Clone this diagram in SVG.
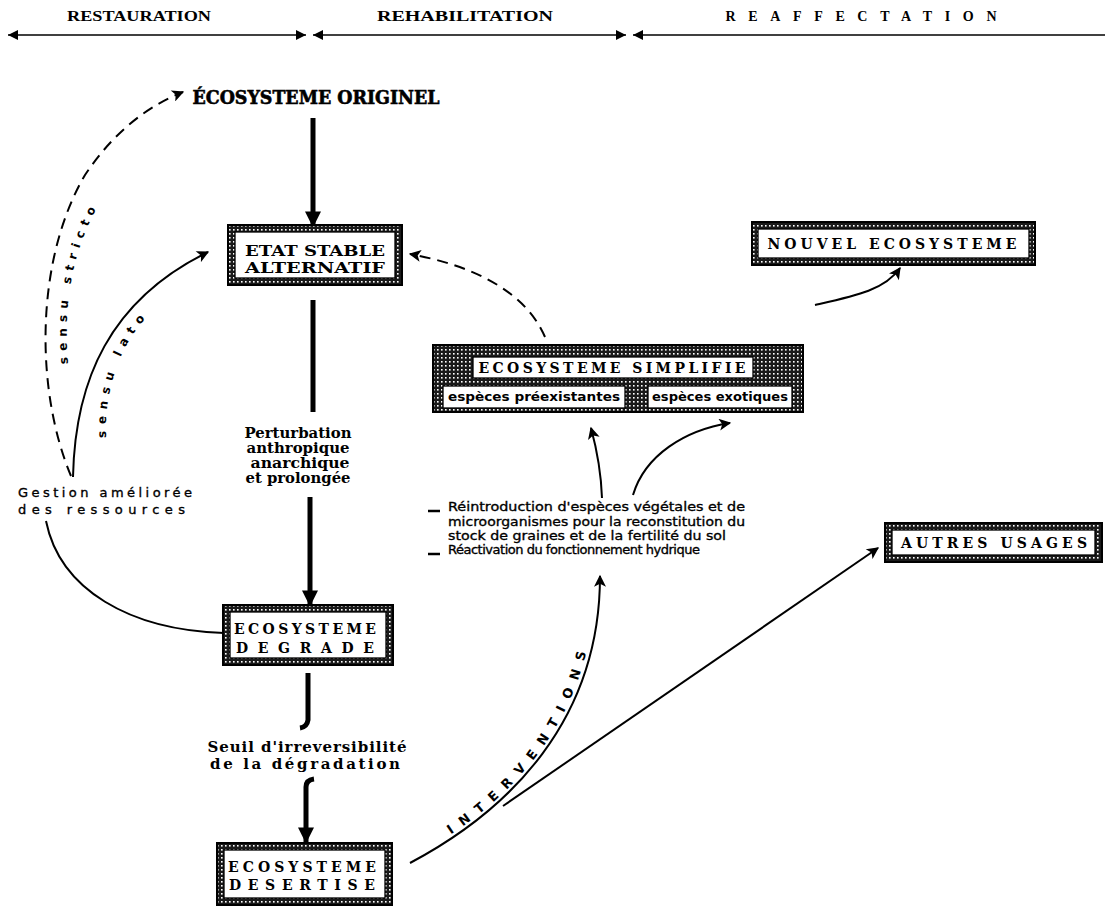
<svg xmlns="http://www.w3.org/2000/svg" width="1105" height="908" viewBox="0 0 1105 908">
<defs>
<style>
.hdr{font-family:"Liberation Serif",serif;font-weight:bold;font-size:14px;fill:#000}
.bt{font-family:"DejaVu Sans",sans-serif;font-weight:bold;fill:#000}
.bs{font-family:"DejaVu Serif",serif;font-weight:bold;fill:#000}
.lt{font-family:"DejaVu Sans",sans-serif;fill:#000;stroke:#000;stroke-width:0.35}
.ln{stroke:#000;fill:none;stroke-width:2}
.thin{stroke:#000;fill:none;stroke-width:1.6}
.thick{stroke:#000;fill:none;stroke-width:5}
.dash{stroke-dasharray:11 7}
.bo{fill:url(#hatch);stroke:#000;stroke-width:2}
.bi{fill:#fff;stroke:#000;stroke-width:1.3}
</style>
<pattern id="hatch" width="4" height="4" patternUnits="userSpaceOnUse">
<rect width="4" height="4" fill="#1a1a1a"/>
<rect x="1" y="1" width="1.6" height="1.6" fill="#fff"/>
</pattern>
<marker id="ah" viewBox="0 0 10 10" refX="9" refY="5" markerUnits="userSpaceOnUse" markerWidth="14" markerHeight="12" orient="auto">
<path d="M0,0 L10,5 L0,10 L2.5,5 z" fill="#000"/>
</marker>
<marker id="ahT" viewBox="0 0 10 10" refX="9" refY="5" markerUnits="userSpaceOnUse" markerWidth="20" markerHeight="16" orient="auto">
<path d="M0,0 L10,5 L0,10 z" fill="#000"/>
</marker>
<marker id="hh" viewBox="0 0 10 10" refX="10" refY="5" markerUnits="userSpaceOnUse" markerWidth="11" markerHeight="10" orient="auto-start-reverse">
<path d="M0,0 L10,5 L0,10 z" fill="#000"/>
</marker>
<path id="p-stricto" d="M68,364 C63,300 72,240 114,180"/>
<path id="p-lato" d="M106,438 C104,380 126,322 180,290"/>
<path id="p-interv" d="M432,846 C512,800 592,716 594,590"/>
</defs>

<g id="header">
<text class="hdr" x="139" y="21" text-anchor="middle" textLength="144" lengthAdjust="spacingAndGlyphs">RESTAURATION</text>
<text class="hdr" x="465" y="21" text-anchor="middle" textLength="176" lengthAdjust="spacingAndGlyphs">REHABILITATION</text>
<text class="hdr" x="861" y="21" text-anchor="middle" textLength="271" lengthAdjust="spacing">REAFFECTATION</text>
<line class="thin" x1="8" y1="35" x2="306" y2="35" marker-start="url(#hh)" marker-end="url(#hh)"/>
<line class="thin" x1="313" y1="35" x2="626" y2="35" marker-start="url(#hh)" marker-end="url(#hh)"/>
<line class="thin" x1="633" y1="35" x2="1105" y2="35" marker-start="url(#hh)"/>
</g>

<g id="connectors">
<line class="thick" x1="313" y1="118" x2="313" y2="226" marker-end="url(#ahT)"/>
<line class="thick" x1="313" y1="300" x2="313" y2="412"/>
<line class="thick" x1="310" y1="497" x2="310" y2="605" marker-end="url(#ahT)"/>
<path class="thick" d="M308,673 L308,720 Q307,727 300,728"/>
<path class="thick" d="M314,779 Q306,780 306,787 L306,842" marker-end="url(#ahT)"/>
<path class="ln dash" d="M71,476 C35,390 35,260 85,175 C115,130 150,105 183,92" marker-end="url(#ah)"/>
<path class="ln" d="M73,477 C75,380 110,300 208,252" marker-end="url(#ah)"/>
<path class="ln" d="M46,521 C60,590 130,630 224,633"/>
<path class="ln dash" d="M545,337 C525,290 470,265 410,254" marker-end="url(#ah)"/>
<path class="ln" d="M815,305 C855,296 885,290 900,268" marker-end="url(#ah)"/>
<path class="ln" d="M602,498 C601,470 597,450 591,428" marker-end="url(#ah)"/>
<path class="ln" d="M633,495 C645,455 685,430 730,423" marker-end="url(#ah)"/>
<path class="ln" d="M410,863 C510,810 600,720 600,576" marker-end="url(#ah)"/>
<line class="ln" x1="503" y1="806" x2="878" y2="548" marker-end="url(#ah)"/>
</g>

<g id="n-originel">
<text class="bs" x="316" y="104" text-anchor="middle" font-size="18" textLength="247" lengthAdjust="spacingAndGlyphs" stroke="#000" stroke-width="0.6">ÉCOSYSTEME ORIGINEL</text>
</g>

<g id="n-etat">
<rect class="bo" x="228" y="225" width="174" height="60"/>
<rect class="bi" x="235" y="232" width="160" height="46"/>
<text class="bs" x="315" y="256" text-anchor="middle" font-size="15" textLength="140" lengthAdjust="spacingAndGlyphs">ETAT STABLE</text>
<text class="bs" x="315" y="273" text-anchor="middle" font-size="15" textLength="140" lengthAdjust="spacingAndGlyphs">ALTERNATIF</text>
</g>

<g id="n-nouvel">
<rect class="bo" x="752" y="222" width="283" height="43"/>
<rect class="bi" x="758" y="229" width="271" height="29"/>
<text class="bs" x="892" y="249" text-anchor="middle" font-size="14" textLength="249" lengthAdjust="spacing">NOUVEL ECOSYSTEME</text>
</g>

<g id="n-simplifie">
<rect class="bo" x="433" y="345" width="370" height="67"/>
<rect class="bi" x="473" y="357" width="280" height="21"/>
<rect class="bi" x="443" y="386" width="182" height="22"/>
<rect class="bi" x="648" y="386" width="144" height="22"/>
<text class="bs" x="612" y="373" text-anchor="middle" font-size="14" textLength="267" lengthAdjust="spacing">ECOSYSTEME SIMPLIFIE</text>
<text class="bt" x="534" y="401" text-anchor="middle" font-size="12" textLength="172" lengthAdjust="spacingAndGlyphs">espèces préexistantes</text>
<text class="bt" x="720" y="401" text-anchor="middle" font-size="12" textLength="136" lengthAdjust="spacingAndGlyphs">espèces exotiques</text>
</g>

<g id="n-interventions-text">
<line x1="428" y1="511" x2="440" y2="511" stroke="#000" stroke-width="2.5"/>
<line x1="428" y1="554" x2="440" y2="554" stroke="#000" stroke-width="2.5"/>
<text class="lt" x="448" y="511" font-size="13" textLength="297" lengthAdjust="spacingAndGlyphs">Réintroduction d'espèces végétales et de</text>
<text class="lt" x="448" y="525.5" font-size="13" textLength="297" lengthAdjust="spacingAndGlyphs">microorganismes pour la reconstitution du</text>
<text class="lt" x="448" y="540" font-size="13" textLength="278" lengthAdjust="spacingAndGlyphs">stock de graines et de la fertilité du sol</text>
<text class="lt" x="448" y="554" font-size="13" textLength="252" lengthAdjust="spacing">Réactivation du fonctionnement hydrique</text>
</g>

<g id="n-autres">
<rect class="bo" x="885" y="523" width="217" height="39"/>
<rect class="bi" x="892" y="530" width="203" height="25"/>
<text class="bs" x="994" y="548" text-anchor="middle" font-size="14" textLength="186" lengthAdjust="spacing">AUTRES USAGES</text>
</g>

<g id="n-gestion">
<text class="lt" x="18" y="497" font-size="13" textLength="174" lengthAdjust="spacing">Gestion améliorée</text>
<text class="lt" x="18" y="514" font-size="13" textLength="167" lengthAdjust="spacing">des ressources</text>
</g>

<g id="n-perturbation">
<text class="bs" x="298" y="438" text-anchor="middle" font-size="14" textLength="107" lengthAdjust="spacingAndGlyphs">Perturbation</text>
<text class="bs" x="298" y="453" text-anchor="middle" font-size="14" textLength="103" lengthAdjust="spacingAndGlyphs">anthropique</text>
<text class="bs" x="300" y="468" text-anchor="middle" font-size="14" textLength="99" lengthAdjust="spacingAndGlyphs">anarchique</text>
<text class="bs" x="298" y="483" text-anchor="middle" font-size="14" textLength="105" lengthAdjust="spacingAndGlyphs">et prolongée</text>
</g>

<g id="n-degrade">
<rect class="bo" x="223" y="605" width="170" height="60"/>
<rect class="bi" x="230" y="612" width="156" height="46"/>
<text class="bs" x="305" y="634" text-anchor="middle" font-size="14" textLength="142" lengthAdjust="spacing">ECOSYSTEME</text>
<text class="bs" x="305" y="653" text-anchor="middle" font-size="14" textLength="138" lengthAdjust="spacing">DEGRADE</text>
</g>

<g id="n-seuil">
<text class="bs" x="307" y="752" text-anchor="middle" font-size="15" textLength="199" lengthAdjust="spacing">Seuil d'irreversibilité</text>
<text class="bs" x="305" y="769" text-anchor="middle" font-size="15" textLength="190" lengthAdjust="spacing">de la dégradation</text>
</g>

<g id="n-desertise">
<rect class="bo" x="217" y="843" width="175" height="62"/>
<rect class="bi" x="224" y="850" width="161" height="48"/>
<text class="bs" x="302" y="872" text-anchor="middle" font-size="14" textLength="148" lengthAdjust="spacing">ECOSYSTEME</text>
<text class="bs" x="302" y="890" text-anchor="middle" font-size="14" textLength="146" lengthAdjust="spacing">DESERTISE</text>
</g>

<g id="labels">
<text class="bt" font-size="12" letter-spacing="6"><textPath href="#p-stricto" startOffset="0">sensu stricto</textPath></text>
<text class="bt" font-size="12" letter-spacing="6.5"><textPath href="#p-lato" startOffset="0">sensu lato</textPath></text>
<text class="bt" font-size="13" letter-spacing="9.5"><textPath href="#p-interv" startOffset="22">INTERVENTIONS</textPath></text>
</g>
</svg>
